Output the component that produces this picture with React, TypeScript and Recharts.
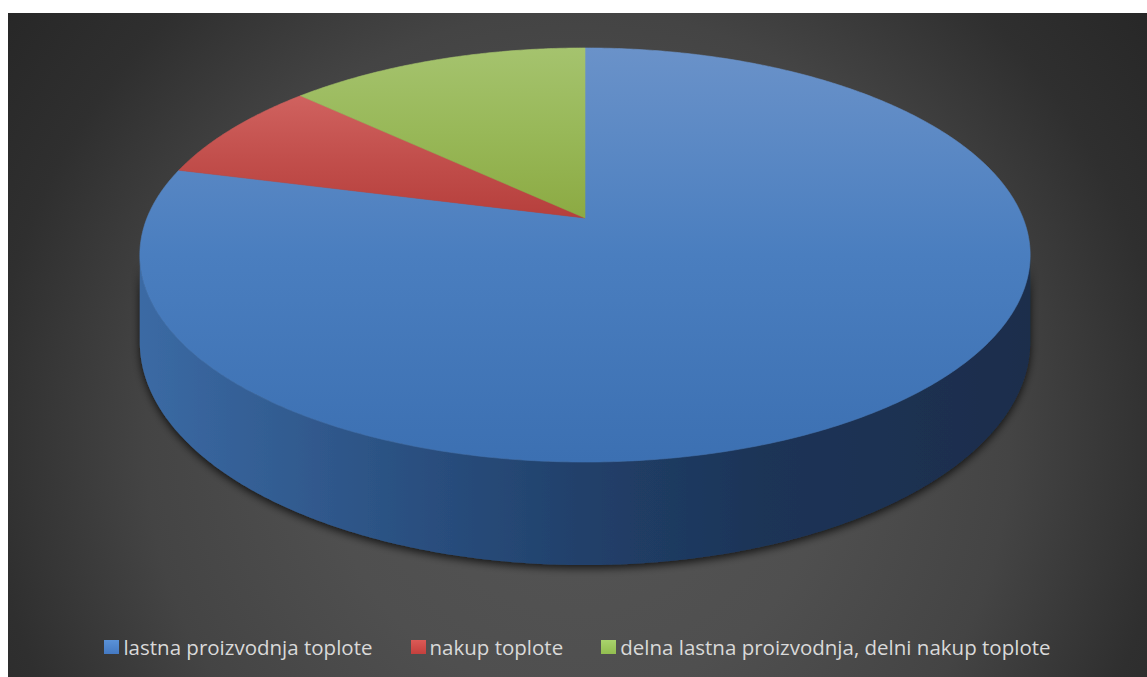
import React from 'react';
import { PieChart, Pie, Cell, Legend } from 'recharts';

const categories = [
  'lastna proizvodnja toplote',
  'nakup toplote',
  'delna lastna proizvodnja, delni nakup toplote',
];
const shares = [79, 8, 13];
const baseColors = ['#4f81bd', '#c0504d', '#9bbb59'];
const topStops = [
  ['#6a92c9', '#4a7ebf', '#3c70b2'],
  ['#d0625f', '#c24f4c', '#b63f3c'],
  ['#a5c36e', '#98b858', '#8caa43'],
];
const legendIcon = [
  'linear-gradient(#5a92d8, #4479c2)',
  'linear-gradient(#dc5a56, #c4403d)',
  'linear-gradient(#a9d36c, #92bd50)',
];

const data = categories.map((name, i) => ({ name, value: shares[i] }));

const W = 1139;
const H = 664;
const TILT = 0.4576;
const PERSP = 0.1787;
const DEPTH = 0.1932;
const SIDE_L = -180 + (Math.asin(PERSP) * 180) / Math.PI;
const SIDE_R = -(Math.asin(PERSP) * 180) / Math.PI;

function project(cx: number, cy: number, r: number, deg: number, drop: number) {
  const t = (deg * Math.PI) / 180;
  const X = Math.cos(t);
  const Z = Math.sin(t);
  const w = 1 + PERSP * Z;
  return [cx + (r * X) / w, cy - (r * TILT * Z) / w + (r * DEPTH * drop) / w];
}

function arc(cx: number, cy: number, r: number, a0: number, a1: number, drop: number) {
  const n = Math.max(2, Math.ceil(Math.abs(a1 - a0) / 0.5));
  const pts: string[] = [];
  for (let k = 0; k <= n; k++) {
    const a = a0 + ((a1 - a0) * k) / n;
    const [x, y] = project(cx, cy, r, a, drop);
    pts.push(`${x.toFixed(2)},${y.toFixed(2)}`);
  }
  return pts;
}

const renderSlice = (props: any) => {
  const { cx, cy, outerRadius, startAngle, endAngle, index } = props;
  const lo0 = Math.min(startAngle, endAngle);
  const hi0 = Math.max(startAngle, endAngle);
  const sides: string[] = [];
  for (const k of [-1, 0, 1]) {
    const lo = Math.max(lo0, SIDE_L + 360 * k);
    const hi = Math.min(hi0, SIDE_R + 360 * k);
    if (hi > lo) {
      const top = arc(cx, cy, outerRadius, lo, hi, 0);
      const bot = arc(cx, cy, outerRadius, hi, lo, 1);
      sides.push(`M${top.join(' L')} L${bot.join(' L')} Z`);
    }
  }
  const topPts = arc(cx, cy, outerRadius, startAngle, endAngle, 0);
  const topPath = `M${cx},${cy} L${topPts.join(' L')} Z`;
  return (
    <g key={`slice-${index}`}>
      {sides.map((d, i) => (
        <path key={i} d={d} fill="url(#sideGrad)" filter="url(#pieShadow)" />
      ))}
      <path
        d={topPath}
        fill={`url(#topGrad${index})`}
        stroke={`url(#topGrad${index})`}
        strokeWidth={0.6}
        strokeLinejoin="round"
      />
    </g>
  );
};

const renderLegend = (props: any) => {
  const payload = [...(props.payload || [])].sort(
    (a: any, b: any) => categories.indexOf(a.value) - categories.indexOf(b.value)
  );
  return (
    <div
      style={{
        display: 'flex',
        justifyContent: 'center',
        alignItems: 'center',
        gap: 38,
        fontFamily: '"Open Sans", sans-serif',
        fontSize: 20.5,
        lineHeight: '28px',
        color: '#d9d9d9',
        whiteSpace: 'nowrap',
      }}
    >
      {payload.map((p: any) => {
        const i = categories.indexOf(p.value);
        return (
          <div key={p.value} style={{ display: 'flex', alignItems: 'center', flexShrink: 0 }}>
            <span
              style={{
                display: 'inline-block',
                flexShrink: 0,
                width: 15,
                height: 14,
                marginRight: 4,
                background: legendIcon[i] || p.color,
              }}
            />
            <span>{p.value}</span>
          </div>
        );
      })}
    </div>
  );
};

export default function App() {
  return (
    <div
      style={{
        position: 'absolute',
        left: 8,
        top: 13,
        width: W,
        height: H,
        background:
          'radial-gradient(circle 720px at 570px 430px, #555555 0%, #4f4f4f 35%, #444444 60%, #2f2f2f 82%, #272727 100%)',
        overflow: 'hidden',
      }}
    >
      <style>{`.recharts-pie-sector{display:none}`}</style>
      <PieChart width={W} height={H} margin={{ top: 0, right: 0, bottom: 0, left: 0 }}>
        <defs>
          <linearGradient id="sideGrad" gradientUnits="userSpaceOnUse" x1={132} y1={0} x2={1022} y2={0}>
            <stop offset="0" stopColor="#3b6aa4" />
            <stop offset="0.29" stopColor="#2b5182" />
            <stop offset="0.5" stopColor="#21406a" />
            <stop offset="0.7" stopColor="#1d3457" />
            <stop offset="1" stopColor="#1a2d4c" />
          </linearGradient>
          {topStops.map((s, i) => (
            <linearGradient key={i} id={`topGrad${i}`} x1="0" y1="0" x2="0" y2="1">
              <stop offset="0" stopColor={s[0]} />
              <stop offset="0.5" stopColor={s[1]} />
              <stop offset="1" stopColor={s[2]} />
            </linearGradient>
          ))}
          <filter id="pieShadow" x="-10%" y="-20%" width="120%" height="150%">
            <feDropShadow dx="0" dy="3" stdDeviation="4" floodColor="#000" floodOpacity="0.75" />
          </filter>
        </defs>
        <Pie
          data={data}
          dataKey="value"
          nameKey="name"
          cx={577}
          cy={205}
          outerRadius={438}
          startAngle={90}
          endAngle={-270}
          stroke="none"
          fillOpacity={0}
          label={renderSlice}
          labelLine={false}
          isAnimationActive={false}
        >
          {data.map((d, i) => (
            <Cell key={d.name} fill={baseColors[i]} />
          ))}
        </Pie>
        <Legend
          layout="horizontal"
          verticalAlign="middle"
          align="center"
          width={W}
          wrapperStyle={{ top: 620, left: 0, width: W }}
          content={renderLegend}
        />
      </PieChart>
    </div>
  );
}
